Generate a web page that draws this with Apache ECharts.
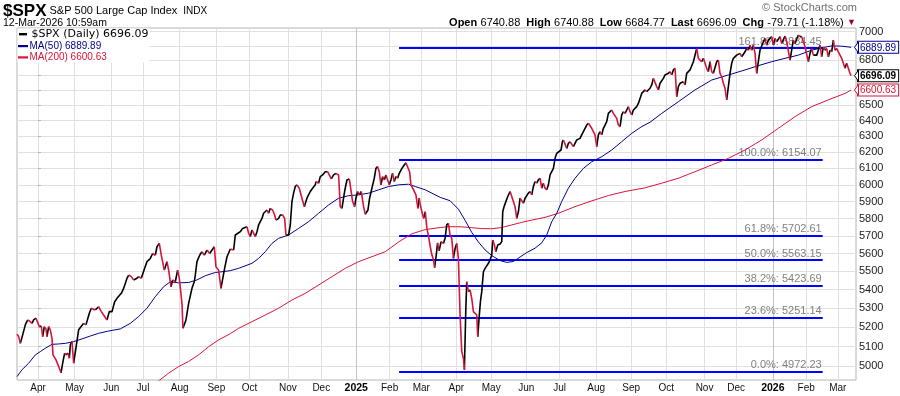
<!DOCTYPE html>
<html><head><meta charset="utf-8">
<script src="https://cdn.jsdelivr.net/npm/echarts@6/dist/echarts.min.js"></script>
<style>html,body{margin:0;padding:0;background:#fff}#c{width:900px;height:396px}</style>
</head><body><div id="c"></div>
<script>
// x axis: trading-day number counted from 2024-04-01 (day 0)
const monthLabels = ['Apr','May','Jun','Jul','Aug','Sep','Oct','Nov','Dec','2025','Feb','Mar','Apr','May','Jun','Jul','Aug','Sep','Oct','Nov','Dec','2026','Feb','Mar'];
const monthTradingDays = [22,22,19,22,22,20,23,20,21,20,19,21,21,21,20,22,21,21,23,19,22,20,19];
const yearDays = [191, 441];

const priceDay = [-12.6,-11.6,-10.6,-9.2,-7.6,-6.2,-4.6,-3.6,-2.6,-1.2,0,0.8,2.0,2.8,3.8,4.8,5.4,6.4,7.4,8.4,9.0,10.8,12.4,13.8,15.0,16.0,16.8,18.0,18.8,19.4,20.4,21.4,24.4,27.4,28.8,30.8,32.0,34.4,36.4,38.0,39.4,41.4,42.8,44.4,46.0,47.4,50.0,51.4,52.4,53.4,54.4,56.0,57.4,59.4,60.4,62.0,64.0,65.4,67.4,68.8,70.4,71.4,72.8,74.0,75.8,77.4,78.4,79.8,80.8,82.4,83.8,84.8,86.4,87.0,88.8,90.4,92.4,93.8,94.4,95.4,97.0,98.4,99.8,101.4,103.0,105.8,106.8,108.4,109.8,112.0,113.4,115.4,117.4,118.4,120.0,121.4,122.8,124.0,125.4,126.4,127.4,128.4,130.4,131.4,132.4,133.4,134.4,135.4,136.4,137.4,138.4,139.4,140.8,142.0,142.8,144.4,145.4,146.8,148.0,148.8,150.4,151.4,152.4,153.4,154.4,155.4,156.8,158.4,159.8,161.4,163.4,164.8,166.4,166.8,168.4,169.4,170.8,172.4,173.8,174.8,176.0,177.4,178.8,180.4,181.4,182.4,184.0,185.4,186.8,187.8,188.8,190.0,190.8,191.8,192.8,194.0,195.4,196.4,198.0,199.0,200.4,201.8,202.8,203.8,204.8,205.8,206.8,207.8,208.8,209.8,210.8,211.8,212.8,213.8,214.8,215.8,216.8,218.4,219.8,220.8,222.0,223.0,223.8,225.4,226.8,228.0,228.8,229.4,230.4,231.4,232.4,233.4,234.4,235.4,236.4,237.4,238.0,239.0,239.8,240.7,241.9,243.3,244.3,245.3,246.3,247.3,248.3,249.3,250.3,251.3,252.3,253.3,254.3,255.3,255.9,256.7,257.3,258.3,259.3,260.3,261.3,262.3,263.3,263.9,264.7,265.5,266.3,267.3,268.3,269.3,270.3,271.3,272.3,272.9,273.9,274.7,275.9,277.3,278.3,278.9,279.7,280.7,281.9,283.3,284.3,285.3,286.3,287.3,288.3,289.3,290.3,291.3,292.3,293.3,294.3,295.3,296.3,297.3,298.3,299.3,300.3,301.3,302.3,303.3,304.3,305.3,306.3,307.3,308.3,309.3,310.3,311.3,312.3,313.9,314.7,315.3,316.3,317.3,318.3,319.3,320.3,321.3,322.3,323.3,324.3,325.3,326.3,327.3,328.3,329.3,330.3,331.3,332.3,333.3,334.3,335.3,336.3,337.3,338.3,339.3,340.3,341.3,342.3,343.3,344.3,345.3,346.3,347.3,348.3,349.3,350.3,351.3,352.3,353.3,354.3,355.3,356.3,357.3,358.3,359.3,360.3,361.3,362.3,363.3,364.3,365.3,366.3,367.3,368.3,369.3,370.3,371.3,372.3,373.3,374.3,375.3,376.3,377.3,378.3,379.3,380.3,381.3,382.3,383.3,384.3,385.3,387.3,388.3,389.3,391.3,393.3,395.3,396.3,398.3,399.3,401.3,402.3,403.3,404.3,405.3,407.3,408.3,409.3,410.3,411.3,412.3,413.3,414.3,415.3,416.3,417.3,419.3,421.3,422.3,424.3,425.3,426.3,427.3,428.3,429.3,430.3,431.3,432.3,433.3,435.3,436.3,437.3,438.3,440.3,441.3,442.3,443.3,445.3,446.3,448.3,449.3,451.3,452.3,453.3,454.3,456.3,457.3,458.3,459.3,460.3,462.3,463.3,464.3,465.3,467.3,469.3,470.3,471.3,472.3,473.3,474.3,475.3,476.3,477.3,478.3,479.3,480.3,481.3,482.3,483.3,484.3,485.3,486.3,487.3,488];
const priceClose = [5163,5151,5116,5160,5212,5238,5229,5220,5238,5247,5238,5203,5206,5151,5203,5191,5151,5203,5186,5142,5057,5032,4998,4967,5024,5066,5057,5066,5040,5108,5125,5015,5186,5220,5212,5273,5300,5291,5308,5282,5264,5238,5282,5282,5335,5353,5380,5407,5434,5462,5480,5471,5453,5462,5471,5462,5517,5554,5572,5600,5590,5638,5657,5590,5507,5554,5507,5416,5453,5443,5507,5462,5326,5194,5238,5326,5407,5443,5480,5554,5590,5610,5590,5619,5600,5638,5526,5507,5407,5517,5580,5625,5619,5705,5715,5724,5743,5753,5753,5715,5696,5734,5696,5724,5763,5782,5801,5831,5840,5850,5831,5860,5850,5821,5791,5801,5821,5821,5801,5705,5705,5763,5900,5950,5990,6000,5980,5920,5870,5920,5960,5980,6000,6020,6010,6050,6060,6080,6080,6060,6036,6060,6070,6060,5870,5860,5960,6030,6036,5970,5900,5870,5920,5960,5940,5960,5870,5825,5850,5920,5980,6040,6100,6111,6080,6000,6050,6030,6060,6050,6000,6030,6070,6020,6050,6040,6070,6100,6121,6135,6131,6080,6000,5970,5940,5860,5920,5880,5840,5801,5840,5743,5696,5638,5591,5563,5521,5591,5660,5615,5667,5657,5686,5763,5772,5705,5686,5572,5628,5657,5572,5264,5074,5040,4982,5282,5443,5389,5398,5353,5282,5273,5264,5151,5247,5335,5389,5498,5517,5526,5545,5563,5591,5676,5648,5610,5648,5654,5667,5840,5870,5880,5930,5960,5950,5900,5870,5801,5840,5920,5910,5890,5920,5930,5950,5960,5940,5990,6020,6010,6030,6040,5980,6010,5980,5970,6000,6060,6080,6100,6162,6193,6203,6214,6266,6277,6266,6224,6256,6266,6256,6235,6245,6277,6287,6287,6309,6330,6351,6372,6383,6372,6351,6330,6309,6235,6309,6330,6309,6351,6372,6394,6447,6458,6469,6447,6437,6415,6372,6362,6437,6458,6447,6469,6491,6458,6437,6469,6480,6491,6512,6523,6578,6590,6601,6590,6590,6612,6634,6678,6667,6623,6601,6645,6656,6678,6701,6705,6712,6723,6701,6735,6746,6556,6623,6645,6656,6634,6712,6735,6791,6882,6814,6791,6814,6746,6723,6791,6723,6712,6791,6802,6712,6690,6645,6612,6535,6623,6712,6780,6814,6836,6848,6825,6859,6882,6870,6905,6870,6905,6848,6712,6791,6870,6928,6952,6905,6940,6964,6905,6952,6928,6964,6916,6969,6928,6802,6870,6940,6916,6976,6964,6964,6928,6893,6791,6848,6882,6836,6836,6905,6825,6893,6870,6882,6825,6870,6859,6940,6870,6882,6859,6848,6814,6802,6746,6780,6768,6712,6696.09];

const ma50Day = [-12.6,-9.6,-5.6,-1.6,1.4,4.4,8.4,12.4,16.4,21.4,26.4,31.4,36.4,42.4,49.4,55.4,60.4,65.4,70.4,75.4,79.4,84.4,90.4,95.4,100.4,106.4,110.4,115.4,120.4,128.4,132.4,136.4,140.4,144.4,150.4,156.4,162.4,168.4,174.4,180.4,186.4,192.4,198.4,204.4,210.4,216.4,222.4,226.4,232.4,236.4,241.4,247.3,252.3,256.3,260.3,264.3,268.3,272.3,277.3,281.3,285.3,289.3,293.3,298.3,302.3,305.3,308.3,311.3,314.3,318.3,322.3,327.3,332.3,338.3,344.3,350.3,356.3,362.3,367.3,374.3,384.3,394.3,404.3,414.3,424.3,432.3,440.3,448.3,456.3,464.3,470.3,476.3,482.3,488];
const ma50 = [4948,4982,5015,5057,5074,5091,5111,5113,5116,5125,5139,5154,5168,5180,5191,5220,5256,5300,5362,5416,5443,5437,5439,5453,5476,5494,5498,5504,5517,5545,5572,5610,5657,5686,5705,5743,5782,5831,5880,5920,5935,5940,5950,5970,5990,6000,6004,5990,5970,5950,5925,5905,5855,5790,5720,5665,5620,5588,5560,5550,5555,5580,5605,5630,5660,5705,5782,5831,5900,5980,6040,6100,6141,6172,6214,6266,6319,6362,6390,6447,6523,6601,6667,6701,6735,6764,6791,6814,6836,6870,6886,6900,6898,6889.89];

const ma200Day = [71.4,78.4,84.4,90.4,96.4,102.4,108.4,115.4,120.4,128.4,136.4,144.4,152.4,160.4,168.4,176.4,184.4,192.4,200.4,208.4,216.4,224.4,232.4,241.4,246.3,254.3,260.3,266.3,272.3,278.3,284.3,290.3,296.3,304.3,312.3,322.3,332.3,342.3,352.3,364.3,374.3,384.3,394.3,404.3,414.3,424.3,434.3,444.3,454.3,464.3,474.3,484.3,488];
const ma200 = [4920,4965,4998,5024,5057,5099,5134,5166,5194,5229,5264,5300,5344,5380,5425,5471,5517,5554,5582,5610,5665,5712,5736,5748,5753,5752,5747,5742,5741,5748,5763,5778,5791,5807,5831,5870,5904,5936,5960,5982,6010,6040,6080,6121,6162,6214,6277,6351,6426,6491,6535,6578,6600.63];

const fibPercents = ['161.8%','100.0%','61.8%','50.0%','38.2%','23.6%','0.0%'];
const fibLevels = [6884.45, 6154.07, 5702.61, 5563.15, 5423.69, 5251.14, 4972.23];
const fibFromDay = 216.7, fibToDay = 470.9;

const yTicks = [5000,5100,5200,5300,5400,5500,5600,5700,5800,5900,6000,6100,6200,6300,6400,6500,6600,6700,6800,6900,7000];
const yTickLabels = [5000,5100,5200,5300,5400,5500,5600,5700,5800,5900,6000,6100,6200,6300,6400,6500,6800,7000];
const lastPrice = 6696.09, lastMa50 = 6889.89, lastMa200 = 6600.63;

// ---- build ----
const monthStarts = [0];
monthTradingDays.forEach(d => monthStarts.push(monthStarts[monthStarts.length - 1] + d));
const monthName = {};
monthStarts.forEach((d, i) => { monthName[d] = monthLabels[i]; });

function segments(wantDown) {
  const out = [];
  let open = false;
  for (let i = 1; i < priceDay.length; i++) {
    const down = priceClose[i] < priceClose[i - 1];
    if (down === wantDown) {
      if (!open) out.push([priceDay[i - 1], priceClose[i - 1]]);
      out.push([priceDay[i], priceClose[i]]);
      open = true;
    } else if (open) {
      out.push([priceDay[i - 1], '-']);
      open = false;
    }
  }
  return out;
}
const pair = (xs, ys) => xs.map((x, i) => [x, ys[i]]);

const FONT = "'Liberation Sans', Arial, sans-serif";
const RED = '#d8143a', NAVY = '#00008b';

const chart = echarts.init(document.getElementById('c'), null, {renderer: 'canvas'});
const fibData = fibLevels.map((lv, i) => [
  {name: fibPercents[i] + ': ' + lv.toFixed(2), coord: [fibFromDay, lv]},
  {coord: [fibToDay, lv]}
]);

const boxStyle = (c, bold) => ({color: c, borderColor: c, borderWidth: 1, backgroundColor: '#fff', padding: [1, 2, 0, 2], fontSize: 10, fontWeight: bold ? 'bold' : 'normal', fontFamily: FONT, lineHeight: 10});

const option = {
  animation: false,
  grid: {left: 17, right: 44, top: 28, bottom: 16, show: true, borderColor: '#b4b4b4', borderWidth: 1, containLabel: false, outerBoundsMode: 'none'},
  xAxis: {
    type: 'value', min: -12.6, max: 490.9,
    axisLine: {show: false},
    axisTick: {show: false, customValues: monthStarts},
    splitLine: {show: true, lineStyle: {color: '#e0e0e0', width: 1}},
    axisLabel: {
      customValues: monthStarts, margin: 3, fontSize: 10, fontFamily: FONT, color: '#111',
      formatter: v => { const n = monthName[Math.round(v)] || ''; return /^\d{4}$/.test(n) ? '{yr|' + n + '}' : n; },
      rich: {yr: {fontWeight: 'bold', fontSize: 10.5, fontFamily: FONT, color: '#000'}}
    }
  },
  yAxis: [{
    type: 'log', logBase: 10, position: 'right', min: 4931, max: 7025,
    axisLine: {show: false},
    axisTick: {show: true, customValues: yTicks, length: 3, lineStyle: {color: '#b4b4b4'}},
    splitLine: {show: true, lineStyle: {color: '#e0e0e0', width: 1}},
    axisLabel: {customValues: yTickLabels, formatter: v => String(Math.round(v)), fontSize: 11, fontFamily: FONT, color: '#222', margin: 3}
  }, {
    type: 'log', logBase: 10, position: 'right', min: 4931, max: 7025,
    axisLine: {show: false}, axisTick: {show: false}, splitLine: {show: false},
    axisLabel: {
      customValues: [lastMa50, lastPrice, lastMa200], margin: 2,
      formatter: v => v > 6800 ? '{b|' + lastMa50.toFixed(2) + '}' : (v > 6650 ? '{k|' + lastPrice.toFixed(2) + '}' : '{r|' + lastMa200.toFixed(2) + '}'),
      rich: {b: boxStyle(NAVY), k: boxStyle('#000', true), r: boxStyle(RED)}
    }
  }],
  series: [
    {
      name: 'MA(200)', type: 'line', data: pair(ma200Day, ma200), showSymbol: false, silent: true, z: 2,
      lineStyle: {color: RED, width: 1}, clip: true,
      markLine: {
        z: 1, silent: true, symbol: ['none', 'none'], animation: false,
        lineStyle: {color: '#0000ff', width: 2, type: 'solid'},
        emphasis: {disabled: true},
        label: {show: true, position: 'insideEndTop', formatter: p => p.name, color: '#808080', fontSize: 11, fontFamily: FONT, distance: 1},
        data: fibData
      }
    },
    {
      name: 'MA(50)', type: 'line', data: pair(ma50Day, ma50), showSymbol: false, silent: true, z: 2,
      lineStyle: {color: NAVY, width: 1}, clip: true,
      markLine: {
        z: 0.5, silent: true, symbol: ['none', 'none'], animation: false,
        lineStyle: {color: '#c4c4c4', width: 1, type: 'solid'},
        label: {show: false}, emphasis: {disabled: true},
        data: yearDays.map(d => ({xAxis: d}))
      }
    },
    {name: 'up', type: 'line', data: segments(false), showSymbol: false, silent: true, z: 3, connectNulls: false,
      lineStyle: {color: '#000', width: 1.6, join: 'round'}, clip: true},
    {name: 'down', type: 'line', data: segments(true), showSymbol: false, silent: true, z: 3, connectNulls: false,
      lineStyle: {color: RED, width: 1.6, join: 'round'}, clip: true}
  ],
  graphic: {elements: [
    {id: 't1', type: 'text', x: 3, y: 11, z: 100, style: {
      text: '{a|$SPX}{b| S&P 500 Large Cap Index }{c| INDX}', verticalAlign: 'middle',
      rich: {a: {font: 'bold 17px ' + FONT, fill: '#000'}, b: {font: '11px ' + FONT, fill: '#000'}, c: {font: '10px ' + FONT, fill: '#000'}}
    }},
    {id: 't2', type: 'text', x: 3, y: 23, z: 100, style: {text: '12-Mar-2026 10:59am', font: '10.5px ' + FONT, fill: '#000', verticalAlign: 'middle'}},
    {id: 't3', type: 'text', x: 857, y: 8, z: 100, style: {text: '© StockCharts.com', font: '11px ' + FONT, fill: '#707070', align: 'right', verticalAlign: 'middle'}},
    {id: 't4', type: 'text', x: 856, y: 22.5, z: 100, style: {
      text: '{l|Open} {v|6740.88}{g| }{l|High} {v|6740.88}{g| }{l|Low} {v|6684.77}{g| }{l|Last} {v|6696.09}{g| }{l|Chg} {v|-79.71 (-1.18%)} {t|▼}',
      align: 'right', verticalAlign: 'middle',
      rich: {l: {font: 'bold 11px ' + FONT, fill: '#000'}, v: {font: '11px ' + FONT, fill: '#000'}, g: {font: '11px ' + FONT, width: 6}, t: {font: '9px ' + FONT, fill: '#a0001e'}}
    }},
    {id: 'lgbg', type: 'rect', z: 90, shape: {x: 17.5, y: 28.5, width: 132, height: 34}, style: {fill: '#fff'}},
    {id: 'lg1', type: 'rect', z: 100, shape: {x: 19, y: 33, width: 8, height: 2.4}, style: {fill: '#000'}},
    {id: 'lt1', type: 'text', x: 31.5, y: 34.5, z: 100, style: {text: '$SPX (Daily) 6696.09', font: "11px 'DejaVu Sans', Verdana, sans-serif", fill: '#000', verticalAlign: 'middle'}},
    {id: 'lg2', type: 'rect', z: 100, shape: {x: 18, y: 45, width: 10, height: 2.2}, style: {fill: NAVY}},
    {id: 'lt2', type: 'text', x: 29.5, y: 46, z: 100, style: {text: 'MA(50) 6889.89', font: '10px ' + FONT, fill: NAVY, verticalAlign: 'middle'}},
    {id: 'lg3', type: 'rect', z: 100, shape: {x: 18, y: 56.3, width: 10, height: 2.2}, style: {fill: RED}},
    {id: 'lt3', type: 'text', x: 29.5, y: 57.3, z: 100, style: {text: 'MA(200) 6600.63', font: '10px ' + FONT, fill: RED, verticalAlign: 'middle'}}
  ]}
};
chart.setOption(option);

// small pointers on the left side of the last-value boxes, placed through the y scale
const pointers = [[lastMa50, NAVY], [lastPrice, '#000'], [lastMa200, RED]].map((p, i) => {
  const y = chart.convertToPixel({yAxisIndex: 0}, p[0]);
  return {id: 'ptr' + i, type: 'polygon', z: 100, shape: {points: [[858.5, y - 5.5], [854.5, y], [858.5, y + 5.5]]},
    style: {fill: '#fff', stroke: p[1], lineWidth: 1}};
});
chart.setOption({graphic: {elements: pointers}});
</script>
</body></html>
